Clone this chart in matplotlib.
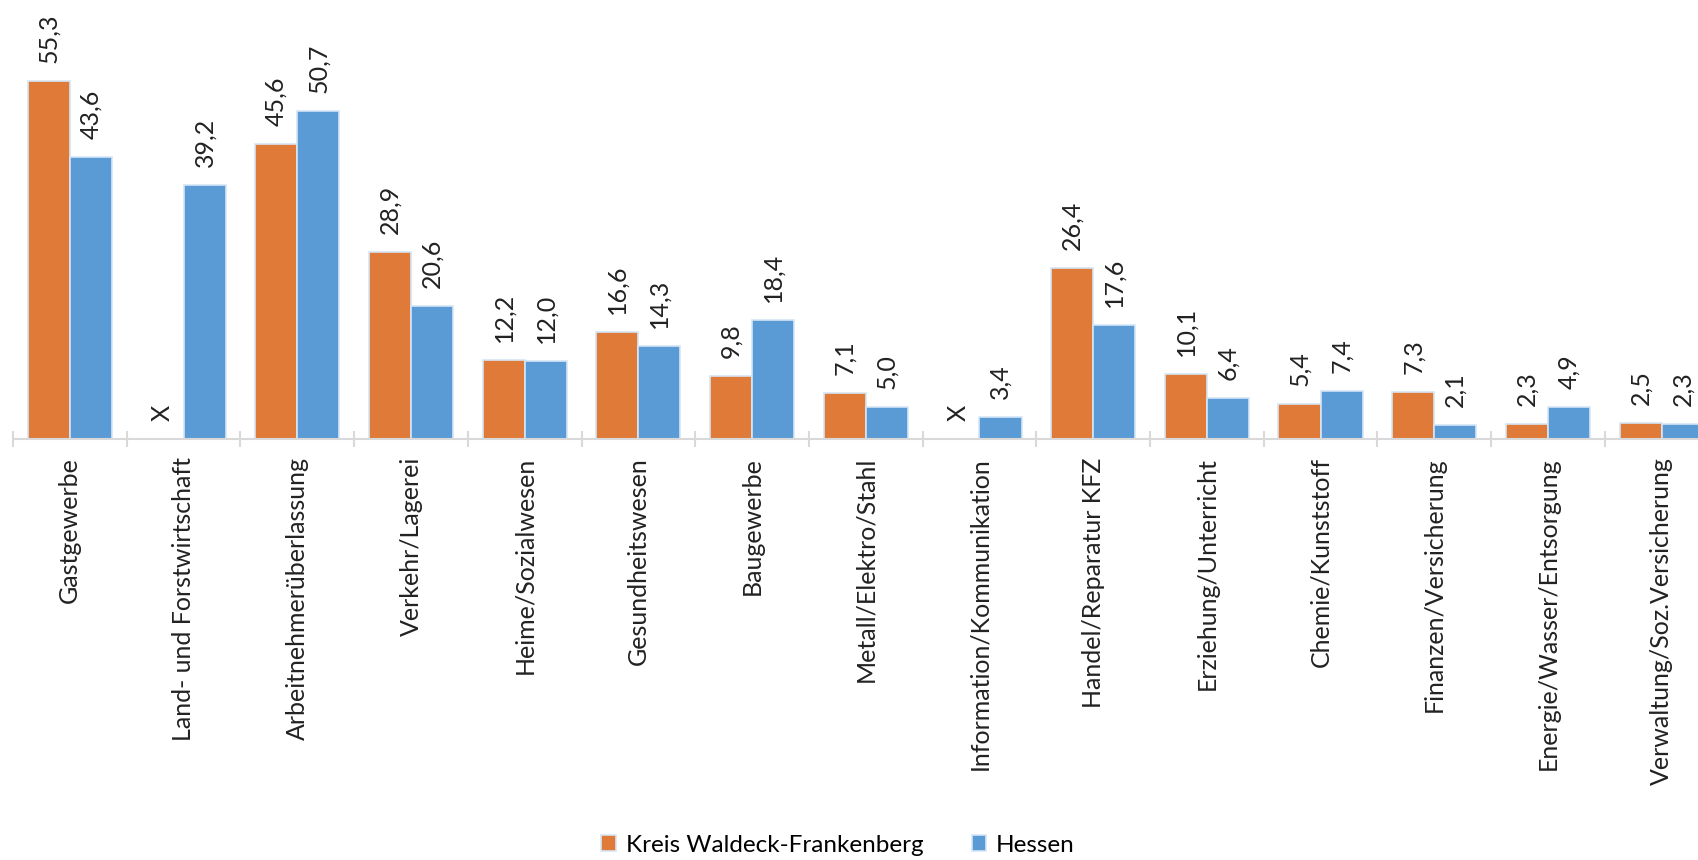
import numpy as np
import matplotlib
matplotlib.use('Agg')
import matplotlib.pyplot as plt
from matplotlib.ticker import FixedLocator

# daten
kategorien = ['Gastgewerbe', 'Land- und Forstwirtschaft', 'Arbeitnehmerüberlassung',
              'Verkehr/Lagerei', 'Heime/Sozialwesen', 'Gesundheitswesen', 'Baugewerbe',
              'Metall/Elektro/Stahl', 'Information/Kommunikation', 'Handel/Reparatur KFZ',
              'Erziehung/Unterricht', 'Chemie/Kunststoff', 'Finanzen/Versicherung',
              'Energie/Wasser/Entsorgung', 'Verwaltung/Soz.Versicherung']
kreis = [55.3, None, 45.6, 28.9, 12.2, 16.6, 9.8, 7.1, None, 26.4, 10.1, 5.4, 7.3, 2.3, 2.5]
hessen = [43.6, 39.2, 50.7, 20.6, 12.0, 14.3, 18.4, 5.0, 3.4, 17.6, 6.4, 7.4, 2.1, 4.9, 2.3]
serien = ['Kreis Waldeck-Frankenberg', 'Hessen']

plt.rcParams['font.family'] = ['Lato', 'DejaVu Sans']
orange = '#DF7A38'
blau = '#5B9BD5'
fs = 18

W, H = 1699, 860
fig = plt.figure(figsize=(W/100, H/100), dpi=100)
# achse laeuft rechts ueber den bildrand hinaus (wie im original)
ax = fig.add_axes([13/W, 1-439/H, 15*113.7/W, 439/H])

x = np.arange(len(kategorien))
b = 0.37
for werte, farbe, off, name in [(kreis, orange, -b/2, serien[0]), (hessen, blau, b/2, serien[1])]:
    xs = [xi+off for xi, v in zip(x, werte) if v is not None]
    vs = [v for v in werte if v is not None]
    ax.bar(xs, vs, width=b, color=farbe, edgecolor='#d5e5f5', linewidth=1.2, label=name)
    for xi, v in zip(x, werte):
        txt = 'X' if v is None else f'{v:.1f}'.replace('.', ',')
        hv = 0 if v is None else v
        ax.annotate(txt, (xi+off, hv), xytext=(0, 13), textcoords='offset points',
                    rotation=90, ha='center', va='bottom', fontsize=fs, color='#222222',
                    annotation_clip=False)

ax.set_xlim(-0.5, len(kategorien)-0.5)
ax.set_ylim(0, 439/6.47)
for s in ['top', 'right', 'left']:
    ax.spines[s].set_visible(False)
ax.spines['bottom'].set_color('#d9d9d9')
ax.spines['bottom'].set_linewidth(1.5)
ax.set_yticks([])
ax.set_xticks(x)
ax.set_xticklabels(kategorien, rotation=90, fontsize=fs, color='#222222')
ax.tick_params(axis='x', which='major', length=0, pad=13)
ax.xaxis.set_minor_locator(FixedLocator(np.arange(-0.5, len(kategorien), 1)))
ax.tick_params(axis='x', which='minor', direction='inout', length=12, width=1.5, color='#d9d9d9')

h, l = ax.get_legend_handles_labels()
fig.legend(h, l, loc='center', bbox_to_anchor=(838/W, 1-845/H), ncol=2, frameon=False,
           fontsize=17.5, handlelength=0.6, handleheight=0.6, columnspacing=2.0, handletextpad=0.4)

fig.savefig('out.png', dpi=100)
